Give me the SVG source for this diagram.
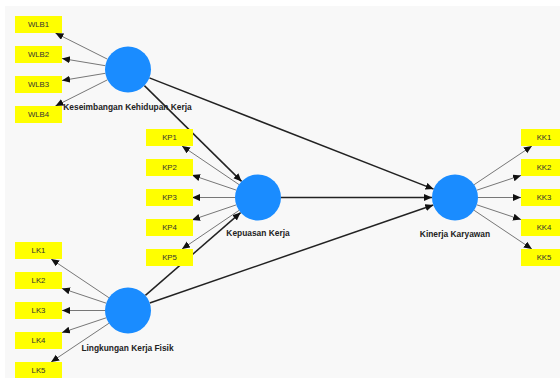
<svg xmlns="http://www.w3.org/2000/svg" width="560" height="378" viewBox="0 0 560 378">
  <defs>
    <marker id="tip" markerUnits="userSpaceOnUse" markerWidth="10" markerHeight="8" refX="8" refY="3.5" orient="auto">
      <path d="M0,0 L8,3.5 L0,7 z" fill="#111"/>
    </marker>
  </defs>
  <style>
    .ind { fill: #ffff00; }
    .ind-t { font-family: "Liberation Sans", Arial, sans-serif; font-size: 7.8px; fill: #333; text-anchor: middle; }
    .lat { fill: #1a8cff; }
    .lat-t { font-family: "Liberation Sans", Arial, sans-serif; font-size: 8.4px; font-weight: bold; fill: #222; text-anchor: middle; }
    .load { stroke: #777; stroke-width: 1; fill: none; marker-end: url(#tip); }
    .path { stroke: #222; stroke-width: 1.5; fill: none; marker-end: url(#tip); }
  </style>

  <rect x="0" y="0" width="560" height="378" fill="#ffffff"/>
  <rect x="5" y="6" width="555" height="372" fill="#f8f8f8"/>

  <g id="connectors">
    <!-- outer loadings: Keseimbangan Kehidupan Kerja -->
    <line class="load" x1="107.5" y1="59.2" x2="55.4" y2="33"/>
    <line class="load" x1="105.3" y1="65.7" x2="62" y2="58.5"/>
    <line class="load" x1="105.3" y1="73.3" x2="62" y2="80.5"/>
    <line class="load" x1="107.5" y1="79.8" x2="55.4" y2="106"/>
    <!-- outer loadings: Kepuasan Kerja -->
    <line class="load" x1="239" y1="184.6" x2="182" y2="146"/>
    <line class="load" x1="236.2" y1="190.1" x2="192" y2="175.1"/>
    <line class="load" x1="235" y1="197.5" x2="192" y2="197.5"/>
    <line class="load" x1="236.2" y1="204.9" x2="192" y2="219.9"/>
    <line class="load" x1="239" y1="210.4" x2="182" y2="249"/>
    <!-- outer loadings: Lingkungan Kerja Fisik -->
    <line class="load" x1="108.9" y1="297.7" x2="51.1" y2="259"/>
    <line class="load" x1="106.2" y1="303.2" x2="62" y2="288.4"/>
    <line class="load" x1="105" y1="310.5" x2="62" y2="310.5"/>
    <line class="load" x1="106.2" y1="317.8" x2="62" y2="332.6"/>
    <line class="load" x1="108.9" y1="323.3" x2="51.1" y2="362"/>
    <!-- outer loadings: Kinerja Karyawan -->
    <line class="load" x1="474.1" y1="184.7" x2="531.9" y2="146"/>
    <line class="load" x1="476.8" y1="190.2" x2="521" y2="175.4"/>
    <line class="load" x1="478" y1="197.5" x2="521" y2="197.5"/>
    <line class="load" x1="476.8" y1="204.8" x2="521" y2="219.6"/>
    <line class="load" x1="474.1" y1="210.3" x2="531.9" y2="249"/>
    <!-- structural paths -->
    <line class="path" x1="144.4" y1="85.6" x2="241.6" y2="181.4"/>
    <line class="path" x1="149.4" y1="77.9" x2="433.6" y2="189.1"/>
    <line class="path" x1="281" y1="197.5" x2="432" y2="197.5"/>
    <line class="path" x1="145.4" y1="295.4" x2="240.6" y2="212.6"/>
    <line class="path" x1="149.7" y1="303" x2="433.3" y2="205"/>
  </g>

  <g id="WLB1"><rect class="ind" x="15" y="16" width="47" height="17"/><text class="ind-t" x="38.5" y="27.3">WLB1</text></g>
  <g id="WLB2"><rect class="ind" x="15" y="46" width="47" height="17"/><text class="ind-t" x="38.5" y="57.3">WLB2</text></g>
  <g id="WLB3"><rect class="ind" x="15" y="76" width="47" height="17"/><text class="ind-t" x="38.5" y="87.3">WLB3</text></g>
  <g id="WLB4"><rect class="ind" x="15" y="106" width="47" height="17"/><text class="ind-t" x="38.5" y="117.3">WLB4</text></g>

  <g id="KP1"><rect class="ind" x="146" y="129" width="47" height="17"/><text class="ind-t" x="169.5" y="140.3">KP1</text></g>
  <g id="KP2"><rect class="ind" x="146" y="159" width="47" height="17"/><text class="ind-t" x="169.5" y="170.3">KP2</text></g>
  <g id="KP3"><rect class="ind" x="146" y="189" width="47" height="17"/><text class="ind-t" x="169.5" y="200.3">KP3</text></g>
  <g id="KP4"><rect class="ind" x="146" y="219" width="47" height="17"/><text class="ind-t" x="169.5" y="230.3">KP4</text></g>
  <g id="KP5"><rect class="ind" x="146" y="249" width="47" height="17"/><text class="ind-t" x="169.5" y="260.3">KP5</text></g>

  <g id="LK1"><rect class="ind" x="15" y="242" width="47" height="17"/><text class="ind-t" x="38.5" y="253.3">LK1</text></g>
  <g id="LK2"><rect class="ind" x="15" y="272" width="47" height="17"/><text class="ind-t" x="38.5" y="283.3">LK2</text></g>
  <g id="LK3"><rect class="ind" x="15" y="302" width="47" height="17"/><text class="ind-t" x="38.5" y="313.3">LK3</text></g>
  <g id="LK4"><rect class="ind" x="15" y="332" width="47" height="17"/><text class="ind-t" x="38.5" y="343.3">LK4</text></g>
  <g id="LK5"><rect class="ind" x="15" y="362" width="47" height="17"/><text class="ind-t" x="38.5" y="373.3">LK5</text></g>

  <g id="KK1"><rect class="ind" x="521" y="129" width="47" height="17"/><text class="ind-t" x="544" y="140.3">KK1</text></g>
  <g id="KK2"><rect class="ind" x="521" y="159" width="47" height="17"/><text class="ind-t" x="544" y="170.3">KK2</text></g>
  <g id="KK3"><rect class="ind" x="521" y="189" width="47" height="17"/><text class="ind-t" x="544" y="200.3">KK3</text></g>
  <g id="KK4"><rect class="ind" x="521" y="219" width="47" height="17"/><text class="ind-t" x="544" y="230.3">KK4</text></g>
  <g id="KK5"><rect class="ind" x="521" y="249" width="47" height="17"/><text class="ind-t" x="544" y="260.3">KK5</text></g>

  <g id="keseimbangan-kehidupan-kerja">
    <circle class="lat" cx="128" cy="69.5" r="23"/>
    <text class="lat-t" x="127.5" y="110">Keseimbangan Kehidupan Kerja</text>
  </g>
  <g id="kepuasan-kerja">
    <circle class="lat" cx="258" cy="197.5" r="23"/>
    <text class="lat-t" x="258" y="236">Kepuasan Kerja</text>
  </g>
  <g id="lingkungan-kerja-fisik">
    <circle class="lat" cx="128" cy="310.5" r="23"/>
    <text class="lat-t" x="127.5" y="351">Lingkungan Kerja Fisik</text>
  </g>
  <g id="kinerja-karyawan">
    <circle class="lat" cx="455" cy="197.5" r="23"/>
    <text class="lat-t" x="455" y="237">Kinerja Karyawan</text>
  </g>
</svg>
